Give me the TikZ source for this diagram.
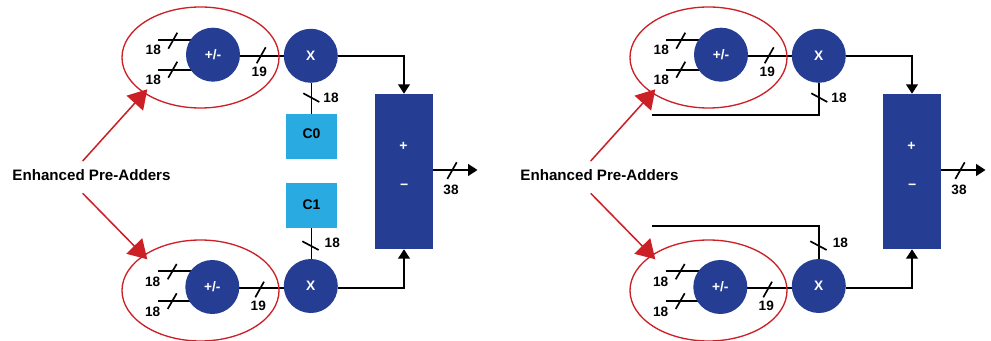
\documentclass[tikz,border=0pt]{standalone}
\usepackage{fontspec}
\setmainfont{Liberation Sans}
\usetikzlibrary{arrows.meta,shapes.geometric,backgrounds}
\definecolor{dkblue}{HTML}{253D92}
\definecolor{ltblue}{HTML}{29ABE2}
\definecolor{hlred}{HTML}{CC2027}
\tikzset{
  x=0.75pt,y=-0.75pt,
  wire/.style={draw=black,line width=1.25pt},
  flow/.style={wire,-{Triangle[length=7pt,width=8.8pt]}},
  slash/.style={draw=black,line width=1.25pt},
  bubble/.style={circle,fill=dkblue,minimum size=40.5pt,inner sep=0pt,text=white,font=\bfseries\fontsize{10.3}{12}\selectfont},
  coef/.style={rectangle,fill=ltblue,minimum width=38.25pt,minimum height=33.75pt,inner sep=0pt,font=\bfseries\fontsize{10.5}{12}\selectfont},
  sumbox/.style={rectangle,fill=dkblue,minimum width=43.5pt,minimum height=116.25pt,inner sep=0pt},
  sign/.style={inner sep=0pt,text=white,font=\bfseries\fontsize{10.5}{12}\selectfont},
  bits/.style={inner sep=0pt,font=\bfseries\fontsize{10.2}{12}\selectfont},
  ring/.style={ellipse,draw=hlred,line width=1pt,minimum width=117.75pt,minimum height=75.75pt,inner sep=0pt},
  callout/.style={inner sep=0pt,font=\bfseries\fontsize{11.35}{13}\selectfont},
  pointer/.style={draw=hlred,line width=1.15pt,-{Triangle[length=14pt,width=16.5pt]}},
}
\newcommand{\halfdiagram}[1]{%
  % top branch
  \node[ring] (#1ringT) at (200.5,57.5) {};
  \node[bubble] (#1addT) at (213,54.7) {+/-};
  \node[bubble] (#1mulT) at (310.8,55.8) {X};
  \coordinate (#1jT) at (275,55.7);
  \coordinate (#1inTa) at (158.3,39.7);
  \coordinate (#1inTb) at (158.3,69.7);
  % bottom branch
  \node[ring] (#1ringB) at (200.5,290.5) {};
  \node[bubble] (#1addB) at (212.3,287) {+/-};
  \node[bubble] (#1mulB) at (310.8,286) {X};
  \coordinate (#1jB) at (275,288);
  \coordinate (#1inBa) at (158.3,271.3);
  \coordinate (#1inBb) at (158.3,301.3);
  % sum
  \node[sumbox] (#1sum) at (404,171.5) {};
  \node[sign] (#1plus) at (403.5,146) {+};
  \node[sign] (#1minus) at (404.2,186.7) {−};
  \coordinate (#1out) at (477.5,170);
  \begin{pgfonlayer}{background}
    \draw[wire] (#1inTa) -- (#1inTa -| #1addT);
    \draw[wire] (#1inTb) -- (#1inTb -| #1addT);
    \draw[wire] (#1jT -| #1addT) -- (#1jT -| #1mulT);
    \draw[wire] (#1inBa) -- (#1inBa -| #1addB);
    \draw[wire] (#1inBb) -- (#1inBb -| #1addB);
    \draw[wire] (#1jB -| #1addB) -- (#1jB -| #1mulB);
  \end{pgfonlayer}
  \draw[flow] (#1jT -| #1mulT.east) -| (#1sum.north);
  \draw[flow] (#1jB -| #1mulB.east) -| (#1sum.south);
  \draw[flow] (#1out -| #1sum.east) -- (#1out);
  % bus slashes
  \draw[slash] (168.3,48.7) -- (177.3,32.7);
  \draw[slash] (168.3,77.7) -- (177.3,61.7);
  \draw[slash] (256.7,63.3) -- (265.7,47.3);
  \draw[slash] (303.3,93.3) -- (319.3,102);
  \draw[slash] (167.7,279.3) -- (176.7,264);
  \draw[slash] (167.7,309) -- (176.7,293.3);
  \draw[slash] (255.3,297.3) -- (264,281.7);
  \draw[slash] (302.3,241.3) -- (318.7,250);
  \draw[slash] (447.3,179) -- (456.7,162.3);
  % bit widths
  \node[bits] at (153.3,50) {18};
  \node[bits] at (153.3,80) {18};
  \node[bits] at (259.3,72) {19};
  \node[bits] at (331,98) {18};
  \node[bits] at (152.7,282.3) {18};
  \node[bits] at (152.7,312.3) {18};
  \node[bits] at (258.3,306) {19};
  \node[bits] at (332.3,243) {18};
  \node[bits] at (451,190) {38};
  % callout
  \node[callout] (#1note) at (91.5,175) {Enhanced Pre-Adders};
  \coordinate (#1fromT) at (82.7,161);
  \coordinate (#1toT) at (147.3,89.3);
  \coordinate (#1fromB) at (82.7,193.3);
  \coordinate (#1toB) at (147.3,259.3);
  \draw[pointer] (#1fromT) -- (#1toT);
  \draw[pointer] (#1fromB) -- (#1toB);
}
\begin{document}
\begin{tikzpicture}
  \useasboundingbox (0,0) rectangle (991,341);
  \begin{scope}
    \halfdiagram{L}
    \node[coef,text height=5pt,text depth=1.3pt] (C0) at (311.5,136.5) {C0};
    \node[coef,text height=6.5pt,text depth=1.2pt] (C1) at (311.5,205.5) {C1};
    \draw[wire] (C0.north) -- (C0.north |- LmulT.south);
    \draw[wire] (C1.south) -- (C1.south |- LmulB.north);
  \end{scope}
  \begin{scope}[shift={(508,0)}]
    \halfdiagram{R}
    \coordinate (RfbT) at (144.3,114.7);
    \coordinate (RfbB) at (144.3,225.7);
    \draw[wire] (RfbT) -| (RmulT.south);
    \draw[wire] (RfbB) -| (RmulB.north);
  \end{scope}
\end{tikzpicture}
\end{document}
